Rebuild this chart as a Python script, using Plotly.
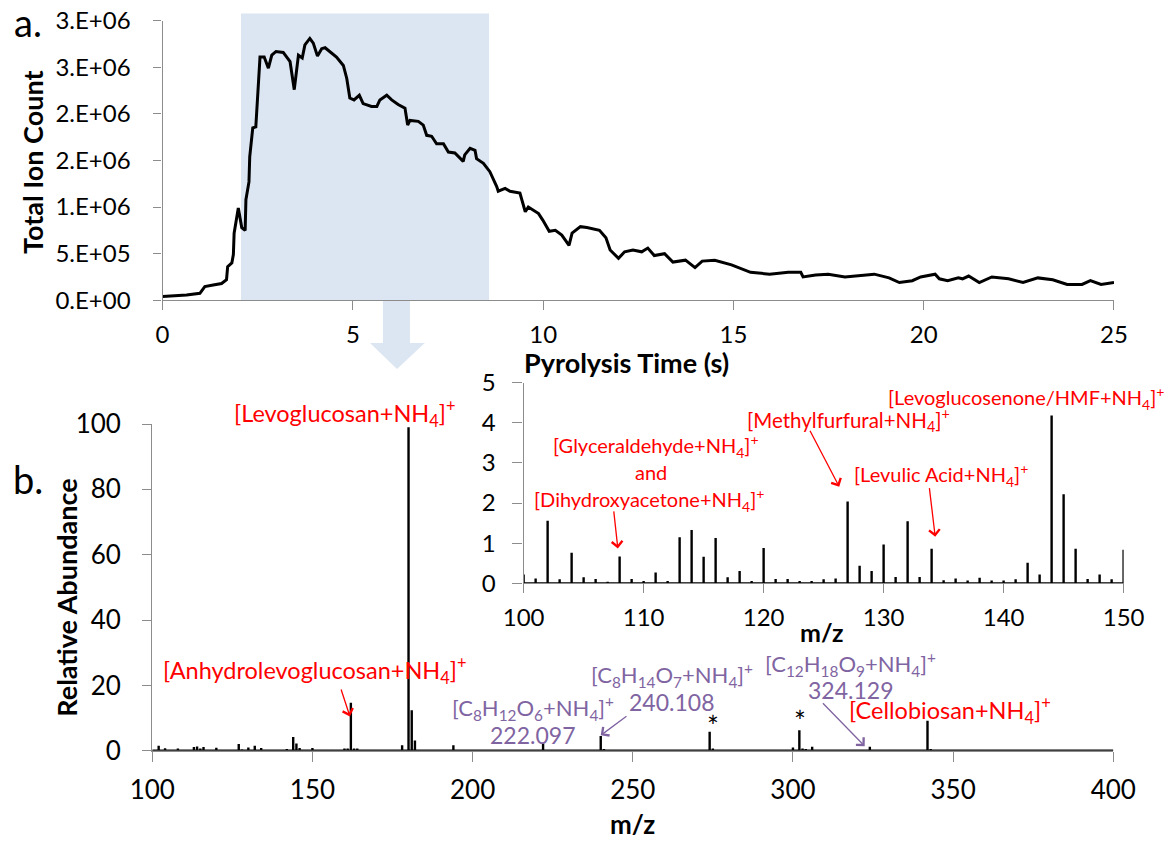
import plotly.graph_objects as go

# ---------------- data ----------------
# (a) total ion count vs pyrolysis time
time_s = [0.0, 0.63, 0.98, 1.11, 1.33, 1.55, 1.68, 1.71, 1.82, 1.86, 1.88, 1.99, 2.08, 2.17,
          2.19, 2.27, 2.29, 2.34, 2.37, 2.45, 2.49, 2.56, 2.67, 2.78, 2.87, 2.98, 3.17, 3.35,
          3.46, 3.57, 3.67, 3.74, 3.87, 3.96, 4.07, 4.18, 4.27, 4.57, 4.75, 4.84, 4.92, 5.03,
          5.17, 5.27, 5.49, 5.63, 5.71, 5.89, 6.02, 6.19, 6.37, 6.44, 6.50, 6.72, 6.85, 6.94,
          7.07, 7.20, 7.38, 7.51, 7.68, 7.77, 7.90, 7.94, 8.08, 8.21, 8.25, 8.43, 8.60, 8.78,
          8.82, 9.00, 9.13, 9.39, 9.53, 9.61, 9.88, 9.99, 10.16, 10.32, 10.49, 10.68, 10.76,
          10.98, 11.15, 11.48, 11.65, 11.76, 11.98, 12.14, 12.36, 12.59, 12.75, 12.92, 13.19,
          13.41, 13.74, 13.99, 14.18, 14.51, 14.95, 15.45, 15.95, 16.44, 16.77, 16.83, 17.16,
          17.49, 17.93, 18.70, 19.09, 19.36, 19.70, 19.92, 20.30, 20.41, 20.63, 20.91, 21.02,
          21.18, 21.46, 21.79, 22.23, 22.61, 23.00, 23.39, 23.77, 24.16, 24.38, 24.66, 24.88,
          25.0]
tic = [0.04e6, 0.057e6, 0.075e6, 0.146e6, 0.164e6, 0.18e6, 0.22e6, 0.36e6, 0.40e6, 0.49e6,
       0.72e6, 0.99e6, 0.78e6, 0.75e6, 1.08e6, 1.27e6, 1.54e6, 1.72e6, 1.85e6, 1.86e6, 2.18e6,
       2.61e6, 2.61e6, 2.49e6, 2.63e6, 2.67e6, 2.66e6, 2.56e6, 2.26e6, 2.63e6, 2.60e6, 2.74e6,
       2.81e6, 2.76e6, 2.62e6, 2.70e6, 2.71e6, 2.61e6, 2.52e6, 2.38e6, 2.17e6, 2.15e6, 2.20e6,
       2.11e6, 2.08e6, 2.08e6, 2.15e6, 2.20e6, 2.15e6, 2.10e6, 2.06e6, 1.88e6, 1.93e6, 1.92e6,
       1.88e6, 1.77e6, 1.76e6, 1.68e6, 1.68e6, 1.59e6, 1.58e6, 1.54e6, 1.49e6, 1.56e6, 1.63e6,
       1.61e6, 1.52e6, 1.47e6, 1.38e6, 1.22e6, 1.17e6, 1.20e6, 1.17e6, 1.15e6, 0.95e6, 1.00e6,
       0.93e6, 0.86e6, 0.74e6, 0.75e6, 0.70e6, 0.59e6, 0.72e6, 0.79e6, 0.78e6, 0.75e6, 0.67e6,
       0.54e6, 0.45e6, 0.52e6, 0.54e6, 0.52e6, 0.56e6, 0.48e6, 0.50e6, 0.41e6, 0.43e6, 0.35e6,
       0.42e6, 0.43e6, 0.38e6, 0.30e6, 0.28e6, 0.30e6, 0.30e6, 0.25e6, 0.27e6, 0.28e6, 0.25e6,
       0.28e6, 0.24e6, 0.19e6, 0.21e6, 0.25e6, 0.28e6, 0.23e6, 0.21e6, 0.24e6, 0.23e6, 0.26e6,
       0.19e6, 0.25e6, 0.23e6, 0.19e6, 0.24e6, 0.22e6, 0.17e6, 0.17e6, 0.21e6, 0.17e6, 0.18e6,
       0.19e6]
tic_ticks = [0, 5e5, 1e6, 1.5e6, 2e6, 2.5e6, 3e6]
tic_ticktext = ["0.E+00", "5.E+05", "1.E+06", "2.E+06", "2.E+06", "3.E+06", "3.E+06"]
window_s = [2.06, 8.58]  # averaging window shaded on the chromatogram

# (b) mass spectrum, m/z 100-150 (also shown enlarged in the inset)
mz_low = list(range(100, 151))
ab_low = [0.22, 0.12, 1.56, 0.10, 0.76, 0.15, 0.11, 0.04, 0.67, 0.11,
          0.06, 0.27, 0.06, 1.15, 1.33, 0.66, 1.13, 0.15, 0.31, 0.06,
          0.88, 0.11, 0.11, 0.06, 0.06, 0.10, 0.12, 2.04, 0.44, 0.31,
          0.97, 0.16, 1.55, 0.16, 0.86, 0.08, 0.12, 0.07, 0.14, 0.07,
          0.07, 0.10, 0.51, 0.22, 4.18, 2.22, 0.86, 0.11, 0.22, 0.10,
          0.84]
# m/z 151-400
mz_high = [151, 152, 155, 157, 159, 160, 161, 162, 163, 164, 165, 168, 170, 173, 176, 177,
           178, 179, 180, 181, 182, 183, 185, 187, 189, 191, 194, 195, 196, 197, 199, 201,
           204, 206, 208, 210, 213, 216, 218, 220, 222, 223, 226, 229, 232, 234, 236, 238,
           240, 241, 242, 245, 248, 252, 256, 260, 264, 268, 272, 274, 275, 276, 278, 282,
           286, 288, 292, 296, 300, 302, 303, 304, 306, 308, 312, 316, 320, 324, 325, 328,
           333, 338, 341, 342, 343, 350, 360, 370, 380, 390, 400]
ab_high = [0.1, 0.1, 0.1, 0.1, 0.2, 0.7, 0.7, 14.7, 0.7, 0.7, 0.2, 0.1, 0.1, 0.2, 0.4, 0.2,
           1.7, 0.3, 99.0, 12.4, 3.1, 0.3, 0.2, 0.2, 0.1, 0.2, 1.7, 0.4, 0.3, 0.4, 0.2, 0.2,
           0.2, 0.3, 0.3, 0.2, 0.2, 0.2, 0.2, 0.3, 2.2, 0.3, 0.2, 0.2, 0.3, 0.2, 0.3, 0.4,
           4.5, 0.5, 0.3, 0.2, 0.2, 0.3, 0.2, 0.2, 0.4, 0.2, 0.3, 5.8, 0.7, 0.3, 0.2, 0.4,
           0.2, 0.4, 0.2, 0.2, 1.0, 6.3, 0.7, 0.5, 1.2, 0.3, 0.3, 0.4, 0.2, 1.2, 0.2, 0.2,
           0.3, 0.2, 0.3, 9.2, 0.5, 0.1, 0.1, 0.1, 0.1, 0.1, 0.1]

mz_all = mz_low + mz_high
ab_all = ab_low + ab_high


def sticks(mz, ab):
    """Stick spectrum: each peak drawn as a vertical line from the baseline."""
    xs, ys = [], []
    for m, a in zip(mz, ab):
        xs += [m, m, m]
        ys += [0, a, 0]
    return xs, ys


FONT = "Lato"
GREY = "#8c8c8c"
RED = "#ff0000"
PURPLE = "#8064a2"
SHADE = "#dce6f2"

fig = go.Figure()

fig.add_trace(go.Scatter(x=time_s, y=tic, mode="lines",
                         line=dict(color="black", width=3),
                         xaxis="x", yaxis="y", showlegend=False))

sx, sy = sticks(mz_all, ab_all)
fig.add_trace(go.Scatter(x=sx, y=sy, mode="lines",
                         line=dict(color="black", width=2.4),
                         xaxis="x2", yaxis="y2", showlegend=False))

ix, iy = sticks(mz_low, ab_low)
fig.add_trace(go.Scatter(x=ix, y=iy, mode="lines",
                         line=dict(color="black", width=2.4),
                         xaxis="x3", yaxis="y3", showlegend=False))


def axis_style(size):
    return dict(showline=True, linecolor=GREY, linewidth=1.3, ticks="outside",
                tickcolor=GREY, tickwidth=1.3, showgrid=False, zeroline=False,
                automargin=False,
                tickfont=dict(family=FONT, size=size, color="black"))


fig.update_layout(
    width=1173, height=842,
    margin=dict(l=0, r=0, t=0, b=0, autoexpand=False),
    paper_bgcolor="white", plot_bgcolor="rgba(0,0,0,0)",
    font=dict(family=FONT, color="black"),
    xaxis=dict(domain=[0.1386, 0.9497], anchor="y", range=[0, 25],
               tickvals=[0, 5, 10, 15, 20, 25], ticklen=9, ticklabelstandoff=4,
               **axis_style(24)),
    yaxis=dict(domain=[0.6434, 0.9754], anchor="x", range=[0, 3e6],
               tickvals=tic_ticks, ticktext=tic_ticktext, ticklen=8,
               ticklabelstandoff=18, **axis_style(24)),
    xaxis2=dict(domain=[0.1298, 0.9491], anchor="y2", range=[100, 400],
                tickvals=[100, 150, 200, 250, 300, 350, 400], ticklen=10,
                ticklabelstandoff=6, **axis_style(26)),
    yaxis2=dict(domain=[0.1084, 0.4964], anchor="x2", range=[0, 100],
                tickvals=[0, 20, 40, 60, 80, 100], ticklen=9, ticklabelstandoff=16,
                **axis_style(26)),
    xaxis3=dict(domain=[0.4464, 0.9579], anchor="y3", range=[100, 150],
                tickvals=[100, 110, 120, 130, 140, 150], ticklen=9,
                ticklabelstandoff=4, **axis_style(24)),
    yaxis3=dict(domain=[0.3072, 0.5455], anchor="x3", range=[0, 5],
                tickvals=[0, 1, 2, 3, 4, 5], ticklen=10, ticklabelstandoff=12,
                **axis_style(24)),
)

# shaded time window and the arrow leading down to the spectrum
fig.add_shape(type="rect", xref="x", yref="paper",
              x0=window_s[0], x1=window_s[1], y0=0.6434, y1=0.984,
              fillcolor=SHADE, line=dict(width=0), layer="below")
fig.add_shape(type="path", xref="x", yref="paper",
              path="M 5.79 0.6425 L 6.50 0.6425 L 6.50 0.5926 L 6.89 0.5926 "
                   "L 6.16 0.5618 L 5.45 0.5926 L 5.79 0.5926 Z",
              fillcolor=SHADE, line=dict(width=0), layer="below")

ann = []


def text(x, y, s, color="black", size=22, ref=("x2", "y2"), bold=False, angle=0, **kw):
    if bold:
        s = "<b>" + s + "</b>"
    ann.append(dict(x=x, y=y, xref=ref[0], yref=ref[1], text=s, showarrow=False,
                    xanchor="center", yanchor="middle",
                    textangle=angle, font=dict(family=FONT, size=size, color=color), **kw))


def arrow(tip, tail, color, ref):
    ann.append(dict(x=tip[0], y=tip[1], ax=tail[0], ay=tail[1], xref=ref[0], yref=ref[1],
                    axref=ref[0], ayref=ref[1], text="", showarrow=True, arrowhead=4,
                    arrowsize=1.6, arrowwidth=1.3, arrowcolor=color))


P = ("paper", "paper")
# panel letters and axis titles
text(0.0239, 0.9739, "a.", size=38, ref=P)
text(0.0239, 0.431, "b.", size=38, ref=P)
text(0.0273, 0.8076, "Total Ion Count", size=27, ref=P, bold=True, angle=-90)
text(0.5337, 0.5689, "Pyrolysis Time (s)", size=27, ref=P, bold=True)
text(0.0569, 0.2898, "Relative Abundance", size=27, ref=P, bold=True, angle=-90)
text(0.5393, 0.0208, "m/z", size=26, ref=P, bold=True)
text(0.7008, 0.2498, "m/z", size=25, ref=P, bold=True)

NH4 = "+NH<sub>4</sub>]<sup>+</sup>"
M = ("x2", "y2")
MD = ("x2", "y2 domain")
I = ("x3", "y3")

# main spectrum labels
text(160.1, 1.032, "[Levoglucosan" + NH4, RED, 23.5, MD)
text(150.8, 24.7, "[Anhydrolevoglucosan" + NH4, RED, 23.5, M)
arrow((161.7, 10.5), (158.8, 19.2), RED, M)
text(218.8, 13.1, "[C<sub>8</sub>H<sub>12</sub>O<sub>6</sub>" + NH4, PURPLE, 22, M)
text(218.8, 4.8, "222.097", PURPLE, 23, M)
text(262.4, 23.1, "[C<sub>8</sub>H<sub>14</sub>O<sub>7</sub>" + NH4, PURPLE, 22, M)
text(262.2, 15.0, "240.108", PURPLE, 23, M)
arrow((240.0, 4.7), (248.5, 10.9), PURPLE, M)
text(318.1, 26.7, "[C<sub>12</sub>H<sub>18</sub>O<sub>9</sub>" + NH4, PURPLE, 22, M)
text(318.1, 18.6, "324.129", PURPLE, 23, M)
arrow((322.4, 1.4), (308.9, 15.0), PURPLE, M)
text(349.0, 12.2, "[Cellobiosan" + NH4, RED, 23.5, M)
text(274.9, 7.6, "*", "black", 28, M)
text(302.3, 9.0, "*", "black", 28, M)

# inset labels
text(141.9, 4.61, "[Levoglucosenone/HMF" + NH4, RED, 20, I)
text(127.1, 4.07, "[Methylfurfural" + NH4, RED, 20.5, I)
arrow((126.3, 2.41), (123.8, 3.84), RED, I)
text(111.0, 3.42, "[Glyceraldehyde" + NH4, RED, 20, I)
text(110.6, 2.78, "and", RED, 20, I)
text(110.45, 2.08, "[Dihydroxyacetone" + NH4, RED, 20, I)
arrow((107.85, 0.87), (107.5, 1.83), RED, I)
text(134.8, 2.70, "[Levulic Acid" + NH4, RED, 20, I)
arrow((134.3, 1.16), (133.8, 2.41), RED, I)

fig.update_layout(annotations=ann)

fig.write_html("out.html")
